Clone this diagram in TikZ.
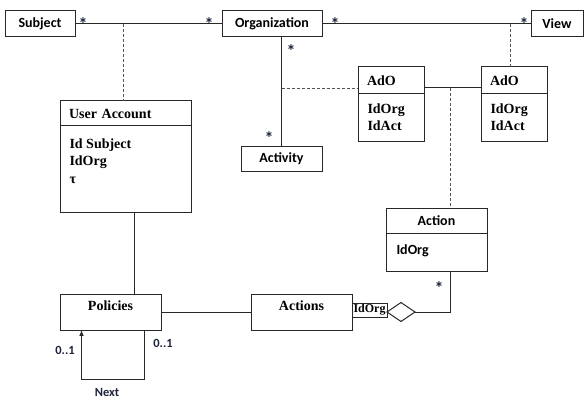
\documentclass[tikz,border=0pt]{standalone}
\usepackage{fontspec}
\setmainfont{Liberation Serif}
\newfontfamily\calfont{Carlito}
\usepackage{xcolor}
\usetikzlibrary{arrows}
\usetikzlibrary{shapes.geometric, positioning}
\definecolor{qnavy}{RGB}{28,36,62}
\definecolor{qline}{RGB}{40,40,40}

\begin{document}
\begin{tikzpicture}[x=1pt,y=-1pt,line width=1pt,
  cls/.style={draw=qline,inner sep=0pt,outer sep=0pt},
  csans/.style={font=\calfont\bfseries\fontsize{14}{16}\selectfont},
  cserif/.style={font=\bfseries\fontsize{14}{17}\selectfont},
  mult/.style={font=\calfont\bfseries\fontsize{12.5}{15}\selectfont,text=qnavy,inner sep=0pt},
  many/.style={font=\calfont\bfseries\fontsize{18}{18}\selectfont,text=qnavy,inner sep=0pt},
  assoc/.style={draw=qline},
  dep/.style={draw=qline!80,dash pattern=on 3pt off 2pt,line width=0.8pt}]
\useasboundingbox (0,0) rectangle (585,398);

%Classes, top row:
\node[cls,csans,minimum width=70,minimum height=26] (subj) at (40,24) {Subject};
\node[cls,csans,minimum width=100,minimum height=26] (org) at (272,24) {Organization};
\node[cls,csans,minimum width=52,minimum height=26] (view) at (557,24) {View};
\node[cls,csans,minimum width=81,minimum height=25] (activ) at (281.5,159) {Activity};

%User Account:
\node[cls,cserif,minimum width=131,minimum height=25,text width=113,align=left] (uahead) at (125.5,113.5) {User Account};
\node[cls,minimum width=131,minimum height=86,below=0pt of uahead] (uabody) {};
\node[cserif,anchor=north west,align=left,inner sep=0pt] (uaattr) at (69,138) {Id Subject\\IdOrg\\[1pt]τ};

%AdO boxes:
\node[cls,cserif,minimum width=66,minimum height=27,text width=48,align=left] (ladohead) at (391,80.5) {AdO};
\node[cls,minimum width=66,minimum height=48,below=0pt of ladohead] (ladobody) {};
\node[cserif,anchor=north west,align=left,inner sep=0pt] (ladoattr) at (367,103) {IdOrg\\IdAct};
\node[cls,cserif,minimum width=66,minimum height=27,text width=48,align=left] (radohead) at (514,80.5) {AdO};
\node[cls,minimum width=66,minimum height=48,below=0pt of radohead] (radobody) {};
\node[cserif,anchor=north west,align=left,inner sep=0pt] (radoattr) at (490,103) {IdOrg\\IdAct};

%Action:
\node[cls,csans,minimum width=101,minimum height=25] (acthead) at (436.5,220.5) {Action};
\node[cls,minimum width=101,minimum height=38,below=0pt of acthead] (actbody) {};
\node[csans,anchor=west,inner sep=0pt] (actattr) at (396,251) {IdOrg};

%Policies, Actions:
\node[cls,cserif,minimum width=101,minimum height=36,text depth=13pt] (pol) at (110.5,312) {Policies};
\node[cls,cserif,minimum width=101,minimum height=36,text depth=13pt] (acts) at (301.5,312) {Actions};
\node[cls,font=\bfseries\fontsize{12}{14}\selectfont,minimum width=35,minimum height=14,anchor=west] (qual) at (acts.east |- 0,310) {IdOrg};
\node[draw=qline,diamond,minimum width=28,minimum height=19,inner sep=0pt,outer sep=0pt,anchor=west] (dia) at (qual.east |- 0,312) {};

%Connectors:
\draw[assoc] (subj) -- (org);
\draw[assoc] (org) -- (view);
\coordinate (sj) at (123,24);
\draw[dep] (sj) -- (sj |- uahead.north);
\coordinate (vj) at (510,24);
\draw[dep] (vj) -- (vj |- radohead.north);
\draw[assoc] (activ.north |- org.south) -- (activ.north);
\coordinate (aj) at (activ.north |- 0,88);
\draw[dep] (aj) -- (aj -| ladohead.west);
\coordinate (oj) at (450,88);
\draw[assoc] (aj -| ladohead.east) -- (aj -| radohead.west);
\draw[dep] (oj) -- (oj |- acthead.north);
\draw[assoc] (oj |- actbody.south) |- (dia.east);
\draw[assoc] (pol) -- (acts);
\draw[assoc] ([xshift=8.5pt]uabody.south) -- ([xshift=8.5pt]uabody.south |- pol.north);
\draw[assoc,-latex] ([xshift=34pt]pol.south) -- ++(0,49) -| ([xshift=-29pt]pol.south);

%Multiplicities:
\node[many] (m1) at (83,24) {*};
\node[many] (m2) at (209,24) {*};
\node[many] (m3) at (291,51) {*};
\node[many] (m4) at (335,24) {*};
\node[many] (m5) at (524,24) {*};
\node[many,anchor=south] (m6) at (269,145.5) {*};
\node[many] (m7) at (439,288) {*};
\node[mult] (m8) at (65,350) {0..1};
\node[mult] (m9) at (163,343) {0..1};
\node[mult] (nxt) at (107,392) {Next};

\end{tikzpicture}
\end{document}
